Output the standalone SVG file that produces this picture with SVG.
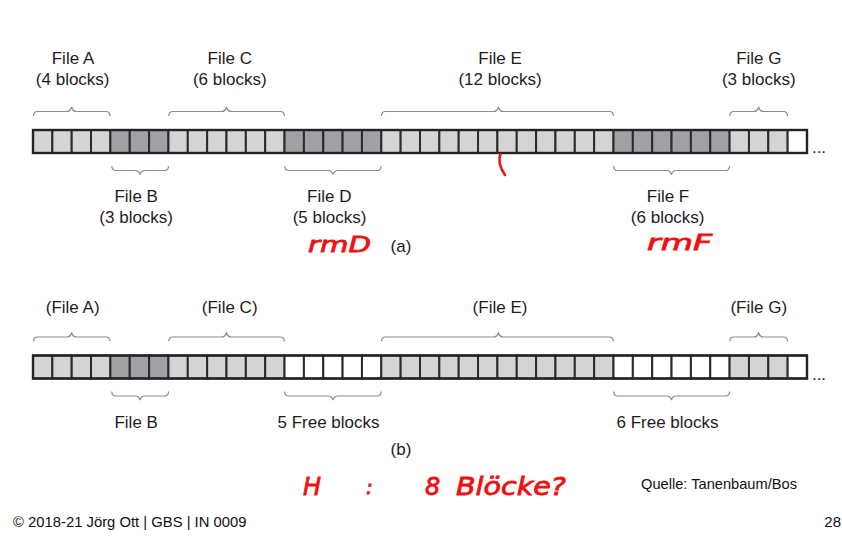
<svg xmlns="http://www.w3.org/2000/svg" width="842" height="536" viewBox="0 0 842 536">
<defs>
<style>
.l{fill:#d3d4d6;stroke:#2b2b2b;stroke-width:2}
.d{fill:#a0a1a4;stroke:#2b2b2b;stroke-width:2}
.w{fill:#ffffff;stroke:#2b2b2b;stroke-width:2}
.frame{fill:none;stroke:#232323;stroke-width:2.4}
.br{fill:none;stroke:#8c8c8c;stroke-width:1.2}
.t{font-family:"Liberation Sans",Arial,sans-serif;font-size:17px;fill:#1f1c1d;text-anchor:middle}
.f{font-family:"Liberation Sans",Arial,sans-serif;fill:#111111}
.hw{font-family:"DejaVu Sans","Liberation Sans",sans-serif;font-style:italic;fill:#f01010;stroke:#f01010;stroke-width:0.8}
.ink{fill:none;stroke:#f01010;stroke-width:2.6;stroke-linecap:round}
</style>
</defs>
<rect width="842" height="536" fill="#ffffff"/>

<g id="row-a">
<rect class="l" x="33" y="130" width="19.35" height="23"/>
<rect class="l" x="52.35" y="130" width="19.35" height="23"/>
<rect class="l" x="71.7" y="130" width="19.35" height="23"/>
<rect class="l" x="91.05" y="130" width="19.35" height="23"/>
<rect class="d" x="110.4" y="130" width="19.35" height="23"/>
<rect class="d" x="129.75" y="130" width="19.35" height="23"/>
<rect class="d" x="149.1" y="130" width="19.35" height="23"/>
<rect class="l" x="168.45" y="130" width="19.35" height="23"/>
<rect class="l" x="187.8" y="130" width="19.35" height="23"/>
<rect class="l" x="207.15" y="130" width="19.35" height="23"/>
<rect class="l" x="226.5" y="130" width="19.35" height="23"/>
<rect class="l" x="245.85" y="130" width="19.35" height="23"/>
<rect class="l" x="265.2" y="130" width="19.35" height="23"/>
<rect class="d" x="284.55" y="130" width="19.35" height="23"/>
<rect class="d" x="303.9" y="130" width="19.35" height="23"/>
<rect class="d" x="323.25" y="130" width="19.35" height="23"/>
<rect class="d" x="342.6" y="130" width="19.35" height="23"/>
<rect class="d" x="361.95" y="130" width="19.35" height="23"/>
<rect class="l" x="381.3" y="130" width="19.35" height="23"/>
<rect class="l" x="400.65" y="130" width="19.35" height="23"/>
<rect class="l" x="420" y="130" width="19.35" height="23"/>
<rect class="l" x="439.35" y="130" width="19.35" height="23"/>
<rect class="l" x="458.7" y="130" width="19.35" height="23"/>
<rect class="l" x="478.05" y="130" width="19.35" height="23"/>
<rect class="l" x="497.4" y="130" width="19.35" height="23"/>
<rect class="l" x="516.75" y="130" width="19.35" height="23"/>
<rect class="l" x="536.1" y="130" width="19.35" height="23"/>
<rect class="l" x="555.45" y="130" width="19.35" height="23"/>
<rect class="l" x="574.8" y="130" width="19.35" height="23"/>
<rect class="l" x="594.15" y="130" width="19.35" height="23"/>
<rect class="d" x="613.5" y="130" width="19.35" height="23"/>
<rect class="d" x="632.85" y="130" width="19.35" height="23"/>
<rect class="d" x="652.2" y="130" width="19.35" height="23"/>
<rect class="d" x="671.55" y="130" width="19.35" height="23"/>
<rect class="d" x="690.9" y="130" width="19.35" height="23"/>
<rect class="d" x="710.25" y="130" width="19.35" height="23"/>
<rect class="l" x="729.6" y="130" width="19.35" height="23"/>
<rect class="l" x="748.95" y="130" width="19.35" height="23"/>
<rect class="l" x="768.3" y="130" width="19.35" height="23"/>
<rect class="w" x="787.65" y="130" width="19.35" height="23"/>
<rect class="frame" x="33" y="130" width="774" height="23"/>
<text class="t" x="819" y="153">...</text>
</g>

<g id="row-b">
<rect class="l" x="33" y="355.5" width="19.35" height="23"/>
<rect class="l" x="52.35" y="355.5" width="19.35" height="23"/>
<rect class="l" x="71.7" y="355.5" width="19.35" height="23"/>
<rect class="l" x="91.05" y="355.5" width="19.35" height="23"/>
<rect class="d" x="110.4" y="355.5" width="19.35" height="23"/>
<rect class="d" x="129.75" y="355.5" width="19.35" height="23"/>
<rect class="d" x="149.1" y="355.5" width="19.35" height="23"/>
<rect class="l" x="168.45" y="355.5" width="19.35" height="23"/>
<rect class="l" x="187.8" y="355.5" width="19.35" height="23"/>
<rect class="l" x="207.15" y="355.5" width="19.35" height="23"/>
<rect class="l" x="226.5" y="355.5" width="19.35" height="23"/>
<rect class="l" x="245.85" y="355.5" width="19.35" height="23"/>
<rect class="l" x="265.2" y="355.5" width="19.35" height="23"/>
<rect class="w" x="284.55" y="355.5" width="19.35" height="23"/>
<rect class="w" x="303.9" y="355.5" width="19.35" height="23"/>
<rect class="w" x="323.25" y="355.5" width="19.35" height="23"/>
<rect class="w" x="342.6" y="355.5" width="19.35" height="23"/>
<rect class="w" x="361.95" y="355.5" width="19.35" height="23"/>
<rect class="l" x="381.3" y="355.5" width="19.35" height="23"/>
<rect class="l" x="400.65" y="355.5" width="19.35" height="23"/>
<rect class="l" x="420" y="355.5" width="19.35" height="23"/>
<rect class="l" x="439.35" y="355.5" width="19.35" height="23"/>
<rect class="l" x="458.7" y="355.5" width="19.35" height="23"/>
<rect class="l" x="478.05" y="355.5" width="19.35" height="23"/>
<rect class="l" x="497.4" y="355.5" width="19.35" height="23"/>
<rect class="l" x="516.75" y="355.5" width="19.35" height="23"/>
<rect class="l" x="536.1" y="355.5" width="19.35" height="23"/>
<rect class="l" x="555.45" y="355.5" width="19.35" height="23"/>
<rect class="l" x="574.8" y="355.5" width="19.35" height="23"/>
<rect class="l" x="594.15" y="355.5" width="19.35" height="23"/>
<rect class="w" x="613.5" y="355.5" width="19.35" height="23"/>
<rect class="w" x="632.85" y="355.5" width="19.35" height="23"/>
<rect class="w" x="652.2" y="355.5" width="19.35" height="23"/>
<rect class="w" x="671.55" y="355.5" width="19.35" height="23"/>
<rect class="w" x="690.9" y="355.5" width="19.35" height="23"/>
<rect class="w" x="710.25" y="355.5" width="19.35" height="23"/>
<rect class="l" x="729.6" y="355.5" width="19.35" height="23"/>
<rect class="l" x="748.95" y="355.5" width="19.35" height="23"/>
<rect class="l" x="768.3" y="355.5" width="19.35" height="23"/>
<rect class="w" x="787.65" y="355.5" width="19.35" height="23"/>
<rect class="frame" x="33" y="355.5" width="774" height="23"/>
<text class="t" x="819" y="379.5">...</text>
</g>

<g id="braces">
<path class="br" d="M33.5 116 Q33.5 111.5 37.5 111.5 H66.7 Q70.7 111.5 71.7 107 Q72.7 111.5 76.7 111.5 H106 Q110 111.5 110 116"/>
<path class="br" d="M168.8 116 Q168.8 111.5 172.8 111.5 H221.5 Q225.5 111.5 226.5 107 Q227.5 111.5 231.5 111.5 H280.4 Q284.4 111.5 284.4 116"/>
<path class="br" d="M381.5 116 Q381.5 111.5 385.5 111.5 H493.4 Q497.4 111.5 498.4 107 Q499.4 111.5 503.4 111.5 H609.4 Q613.4 111.5 613.4 116"/>
<path class="br" d="M729.8 116 Q729.8 111.5 733.8 111.5 H753.6 Q757.6 111.5 758.6 107 Q759.6 111.5 763.6 111.5 H783.5 Q787.5 111.5 787.5 116"/>
<path class="br" d="M111.8 166 Q111.8 170.5 115.8 170.5 H135 Q139 170.5 140 174.5 Q141 170.5 145 170.5 H164.5 Q168.5 170.5 168.5 166"/>
<path class="br" d="M284.7 166 Q284.7 170.5 288.7 170.5 H328 Q332 170.5 333 174.5 Q334 170.5 338 170.5 H377.2 Q381.2 170.5 381.2 166"/>
<path class="br" d="M613.7 166 Q613.7 170.5 617.7 170.5 H666.5 Q670.5 170.5 671.5 174.5 Q672.5 170.5 676.5 170.5 H725.5 Q729.5 170.5 729.5 166"/>
<path class="br" d="M33.5 341.5 Q33.5 337 37.5 337 H66.7 Q70.7 337 71.7 332.5 Q72.7 337 76.7 337 H106 Q110 337 110 341.5"/>
<path class="br" d="M168.8 341.5 Q168.8 337 172.8 337 H221.5 Q225.5 337 226.5 332.5 Q227.5 337 231.5 337 H280.4 Q284.4 337 284.4 341.5"/>
<path class="br" d="M381.5 341.5 Q381.5 337 385.5 337 H493.4 Q497.4 337 498.4 332.5 Q499.4 337 503.4 337 H609.4 Q613.4 337 613.4 341.5"/>
<path class="br" d="M729.8 341.5 Q729.8 337 733.8 337 H753.6 Q757.6 337 758.6 332.5 Q759.6 337 763.6 337 H783.5 Q787.5 337 787.5 341.5"/>
<path class="br" d="M111.8 391.5 Q111.8 396 115.8 396 H135 Q139 396 140 400 Q141 396 145 396 H164.5 Q168.5 396 168.5 391.5"/>
<path class="br" d="M284.7 391.5 Q284.7 396 288.7 396 H328 Q332 396 333 400 Q334 396 338 396 H377.2 Q381.2 396 381.2 391.5"/>
<path class="br" d="M613.7 391.5 Q613.7 396 617.7 396 H666.5 Q670.5 396 671.5 400 Q672.5 396 676.5 396 H725.5 Q729.5 396 729.5 391.5"/>
</g>

<g id="a-fileA"><text class="t" x="73" y="64">File A</text><text class="t" x="72.7" y="85">(4 blocks)</text></g>
<g id="a-fileB"><text class="t" x="136.2" y="202">File B</text><text class="t" x="136.2" y="222.5">(3 blocks)</text></g>
<g id="a-fileC"><text class="t" x="229.8" y="64">File C</text><text class="t" x="229.8" y="85">(6 blocks)</text></g>
<g id="a-fileD"><text class="t" x="329.3" y="202">File D</text><text class="t" x="329.5" y="222.5">(5 blocks)</text></g>
<g id="a-fileE"><text class="t" x="500" y="64">File E</text><text class="t" x="500" y="85">(12 blocks)</text></g>
<g id="a-fileF"><text class="t" x="668" y="202">File F</text><text class="t" x="667.7" y="222.5">(6 blocks)</text></g>
<g id="a-fileG"><text class="t" x="758.8" y="64">File G</text><text class="t" x="758.8" y="85">(3 blocks)</text></g>
<g id="a-caption"><text class="t" x="401" y="251.5">(a)</text></g>

<g id="b-fileA"><text class="t" x="72.7" y="313">(File A)</text></g>
<g id="b-fileB"><text class="t" x="136.2" y="427.5">File B</text></g>
<g id="b-fileC"><text class="t" x="229.7" y="313">(File C)</text></g>
<g id="b-free5"><text class="t" x="328.5" y="427.5">5 Free blocks</text></g>
<g id="b-fileE"><text class="t" x="500" y="313">(File E)</text></g>
<g id="b-free6"><text class="t" x="667.5" y="427.5">6 Free blocks</text></g>
<g id="b-fileG"><text class="t" x="758.8" y="313">(File G)</text></g>
<g id="b-caption"><text class="t" x="401" y="455">(b)</text></g>

<g id="annotations">
<path class="ink" d="M500.5 154 Q497 163 505 175"/>
<text class="hw" x="308" y="252" font-size="22" textLength="63" lengthAdjust="spacingAndGlyphs">rmD</text>
<text class="hw" x="647" y="249.5" font-size="22" textLength="65" lengthAdjust="spacingAndGlyphs">rmF</text>
<text class="hw" x="303" y="495" font-size="24">H</text>
<text class="hw" x="366" y="494" font-size="20">:</text>
<text class="hw" x="425" y="495" font-size="24">8</text>
<text class="hw" x="456" y="495" font-size="24" textLength="110" lengthAdjust="spacingAndGlyphs">Blöcke?</text>
</g>

<g id="footer">
<text class="f" x="641" y="489.3" font-size="14.5" textLength="156" lengthAdjust="spacingAndGlyphs">Quelle: Tanenbaum/Bos</text>
<text class="f" x="13" y="527.3" font-size="14.8" textLength="233.5" lengthAdjust="spacingAndGlyphs">© 2018-21 Jörg Ott | GBS | IN 0009</text>
<text class="f" x="841" y="527.3" font-size="15" text-anchor="end">28</text>
</g>
</svg>
